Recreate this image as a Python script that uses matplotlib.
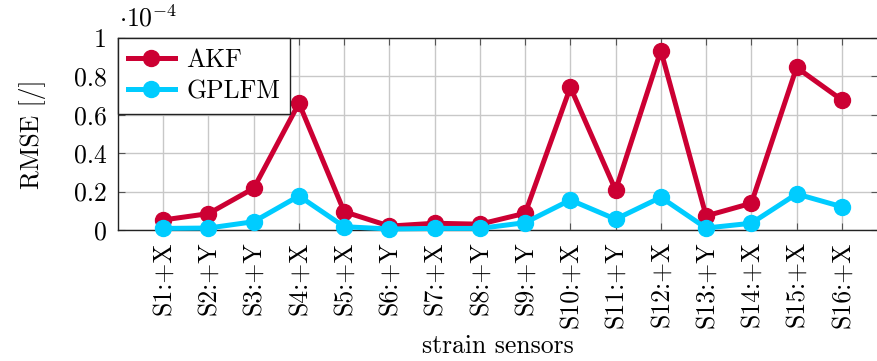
import matplotlib
matplotlib.use("Agg")
import matplotlib.pyplot as plt

plt.rcParams["font.family"] = "serif"
plt.rcParams["font.serif"] = ["cmr10", "DejaVu Serif"]
plt.rcParams["mathtext.fontset"] = "cm"
plt.rcParams["axes.unicode_minus"] = False
plt.rcParams["axes.formatter.use_mathtext"] = True

sensors = ["S1:+X", "S2:+Y", "S3:+Y", "S4:+X", "S5:+X", "S6:+Y", "S7:+X", "S8:+Y",
           "S9:+Y", "S10:+X", "S11:+Y", "S12:+X", "S13:+Y", "S14:+X", "S15:+X", "S16:+X"]
# RMSE values in units of 1e-4
akf = [0.052, 0.085, 0.217, 0.66, 0.095, 0.02, 0.035, 0.03,
       0.087, 0.743, 0.207, 0.934, 0.073, 0.139, 0.846, 0.677]
gplfm = [0.008, 0.01, 0.043, 0.177, 0.017, 0.005, 0.008, 0.008,
         0.038, 0.156, 0.056, 0.17, 0.01, 0.035, 0.1875, 0.121]
yticks = [0, 0.2, 0.4, 0.6, 0.8, 1]
ytick_labels = ["0", "0.2", "0.4", "0.6", "0.8", "1"]

red = "#cc0033"
cyan = "#00ccff"
fs = 18.5

fig = plt.figure(figsize=(8.78, 3.61), dpi=100)
ax = fig.add_axes([0.1344, 0.363, 0.8656, 0.532])

x = list(range(1, len(sensors) + 1))
ax.plot(x, akf, color=red, lw=3.6, marker="o", ms=11.5, label="AKF", zorder=3, clip_on=False)
ax.plot(x, gplfm, color=cyan, lw=3.6, marker="o", ms=11.5, label="GPLFM", zorder=4, clip_on=False)

ax.set_xlim(0, 16.8)
ax.set_ylim(0, 1)
ax.set_xticks(x)
ax.set_xticklabels(sensors, rotation=90, fontsize=fs)
ax.set_yticks(yticks)
ax.set_yticklabels(ytick_labels, fontsize=fs)

ax.grid(True, color="#c8c8c8", lw=1)
ax.set_axisbelow(True)
ax.tick_params(direction="in", top=True, right=True, length=5, width=0.8,
               color="#555555", pad=8)
for s in ax.spines.values():
    s.set_linewidth(1.0)
    s.set_color("#222222")

ax.set_xlabel("strain sensors", fontsize=fs, labelpad=5)
ax.set_ylabel("RMSE [/]", fontsize=fs, labelpad=20)
fig.text(0.136, 0.912, r"$\cdot 10^{-4}$", fontsize=fs, ha="left", va="bottom")

leg = ax.legend(loc="upper left", fontsize=fs, frameon=True, fancybox=False,
                borderaxespad=0, handlelength=1.8, handletextpad=0.45,
                borderpad=0.4, labelspacing=0.3)
leg.get_frame().set_edgecolor("#222222")
leg.get_frame().set_linewidth(1.0)
leg.get_frame().set_alpha(1)

fig.savefig("out.png", dpi=100)
